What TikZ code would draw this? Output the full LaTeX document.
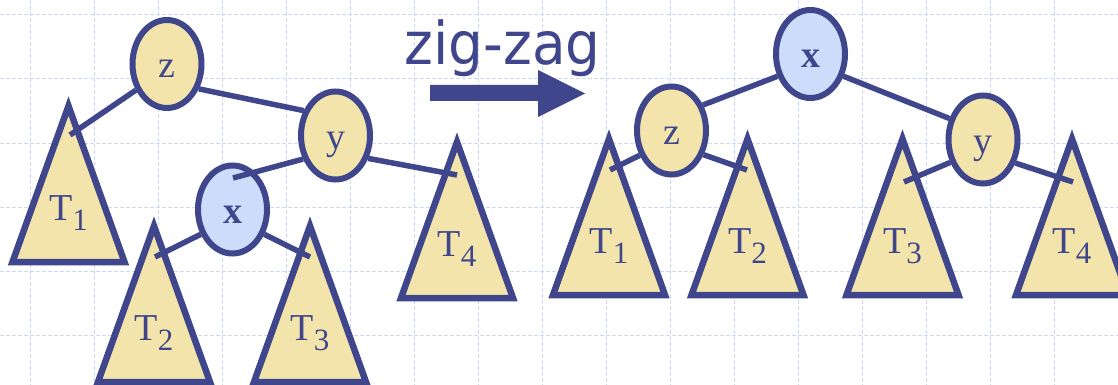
\documentclass[tikz,border=0pt]{standalone}
\usepackage{fontspec}
\usepackage{graphicx}
\setmainfont{Liberation Serif}
\newfontfamily\zzfont{DejaVu Sans}
\usetikzlibrary{shapes.geometric}
\definecolor{ink}{RGB}{64,70,140}
\definecolor{sand}{RGB}{242,228,170}
\definecolor{sky}{RGB}{205,220,250}
\definecolor{gridc}{RGB}{205,216,248}
\newcommand\Tsub[1]{T\raisebox{-10pt}{\fontsize{31}{31}\selectfont #1}}
\begin{document}
\begin{tikzpicture}[x=1pt,y=-1pt,
  vert/.style={ellipse, draw=ink, line width=6pt, minimum width=69pt, minimum height=88pt,
    inner sep=0pt, text=ink, font=\fontsize{38}{38}\selectfont, text height=28pt, text depth=0pt},
  yel/.style={vert, fill=sand},
  blu/.style={vert, fill=sky},
  tri/.style={draw=ink, fill=sand, line width=6.5pt, line join=miter},
  link/.style={draw=ink, line width=5.5pt},
  tlab/.style={anchor=base, text=ink, font=\fontsize{38}{38}\selectfont, inner sep=0pt},
  gridline/.style={draw=gridc, line width=1pt, dash pattern=on 4pt off 2pt},
  pics/subtree/.style={code={
    \draw[tri] (0,0) -- (56,156) -- (-56,156) -- cycle;
    \node[tlab] (-lab) at (0,114) {\Tsub{#1}};}}]
\useasboundingbox (0,0) rectangle (1118,385);
% background grid
\foreach \gx in {30,94,...,1118} \draw[gridline] (\gx,0) -- (\gx,385);
\foreach \gy in {15,79,...,385} \draw[gridline] (0,\gy) -- (1118,\gy);
% subtrees (left)
\pic (lt1) at (68.5,106) {subtree=1};
\pic (lt2) at (154,226) {subtree=2};
\pic (lt3) at (310,226) {subtree=3};
\pic (lt4) at (457,142) {subtree=4};
% subtrees (right)
\pic (rt1) at (609,139) {subtree=1};
\pic (rt2) at (747.5,139) {subtree=2};
\pic (rt3) at (902.5,139) {subtree=3};
\pic (rt4) at (1072,139) {subtree=4};
% nodes
\node[yel] (lz) at (167,64) {z};
\node[yel] (ly) at (335.5,135.5) {y};
\node[blu] (lx) at (232.5,209.5) {\textbf{x}};
\node[blu] (rx) at (810.5,54) {\textbf{x}};
\node[yel] (rz) at (671.5,130.5) {z};
\node[yel] (ry) at (983,139.5) {y};
% connector ends on subtrees
\coordinate (lt1e) at (70,135);
\coordinate (lt2e) at (155,257);
\coordinate (lt3e) at (310,257);
\coordinate (lt4e) at (457,175);
\coordinate (lxin) at (233,178);
\coordinate (rt1e) at (610,170);
\coordinate (rt2e) at (747,170);
\coordinate (rt3e) at (904,182);
\coordinate (rt4e) at (1073,182);
% edges
\draw[link] (lz.220) -- (lt1e);
\draw[link] (lz.-38) -- (ly.142);
\draw[link] (ly.216) -- (lxin);
\draw[link] (ly.-35) -- (lt4e);
\draw[link] (lx.218) -- (lt2e);
\draw[link] (lx.-38) -- (lt3e);
\draw[link] (rx.214) -- (rz.39);
\draw[link] (rx.-34) -- (ry.148);
\draw[link] (rz.218) -- (rt1e);
\draw[link] (rz.-37) -- (rt2e);
\draw[link] (ry.215) -- (rt3e);
\draw[link] (ry.-36) -- (rt4e);
% title and arrow
\node[anchor=base, text=ink, font=\zzfont\fontsize{59}{59}\selectfont, inner sep=0pt] (zz) at (502.5,65) {\scalebox{0.93}[1]{zig-zag}};
\fill[ink] (430,85) -- (538,85) -- (538,70) -- (585,93.5) -- (538,117) -- (538,101) -- (430,101) -- cycle;
\end{tikzpicture}
\end{document}
